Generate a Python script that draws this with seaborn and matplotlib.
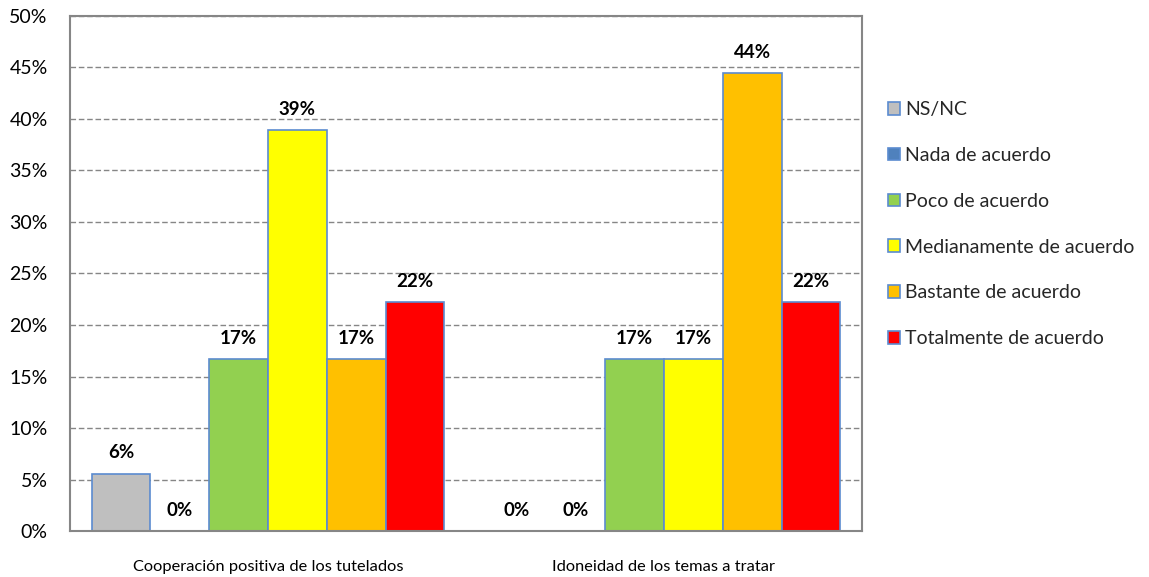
import pandas as pd
import numpy as np
import matplotlib.pyplot as plt
import seaborn as sns
from matplotlib.ticker import PercentFormatter

# Chart data
categories = ["Cooperación positiva de los tutelados", "Idoneidad de los temas a tratar"]
responses = ["NS/NC", "Nada de acuerdo", "Poco de acuerdo",
             "Medianamente de acuerdo", "Bastante de acuerdo", "Totalmente de acuerdo"]
cooperacion = [0.0556, 0.0, 0.1667, 0.3889, 0.1667, 0.2222]
idoneidad = [0.0, 0.0, 0.1667, 0.1667, 0.4444, 0.2222]
colors = ["#BFBFBF", "#4F81BD", "#92D050", "#FFFF00", "#FFC000", "#FF0000"]

df = pd.DataFrame({
    "Categoria": [categories[0]] * len(responses) + [categories[1]] * len(responses),
    "Respuesta": responses * 2,
    "Valor": cooperacion + idoneidad,
})

sns.set_style("white")
plt.rcParams["font.family"] = ["Lato", "DejaVu Sans"]

fig = plt.figure(figsize=(11.49, 5.77), dpi=100)
ax = fig.add_axes([0.0609, 0.0797, 0.6893, 0.8926])

sns.barplot(
    data=df,
    x="Categoria",
    y="Valor",
    hue="Respuesta",
    hue_order=responses,
    palette=colors,
    saturation=1,
    width=0.891,
    edgecolor="#5B8BD0",
    linewidth=1.2,
    ax=ax,
)

# value labels
for cont in ax.containers:
    vals = cont.datavalues
    ax.bar_label(cont, labels=[f"{v:.0%}" for v in vals], padding=9,
                 fontsize=13.5, fontweight="bold", color="black")

ax.set_xlim(-0.5, 1.5)
ax.set_ylim(0, 0.5)
ax.set_yticks(np.arange(0, 0.51, 0.05))
ax.yaxis.set_major_formatter(PercentFormatter(1.0, decimals=0))
ax.set_xlabel("")
ax.set_ylabel("")
ax.tick_params(axis="both", length=0, colors="black")
ax.tick_params(axis="y", pad=16, labelsize=14)
ax.tick_params(axis="x", pad=21, labelsize=11.8)

ax.grid(axis="y", linestyle=(0, (4, 2)), color="#868686", linewidth=1)
ax.set_axisbelow(True)
for s in ax.spines.values():
    s.set_visible(True)
    s.set_color("#868686")
    s.set_linewidth(1.5)

handles, labels = ax.get_legend_handles_labels()
ax.get_legend().remove()
fig.legend(handles, labels, loc="upper left", bbox_to_anchor=(0.7657, 0.838),
           frameon=False, fontsize=14, handlelength=0.62, handleheight=0.62,
           handletextpad=0.3, labelspacing=1.48, borderaxespad=0)

plt.savefig("out.png", dpi=100)
